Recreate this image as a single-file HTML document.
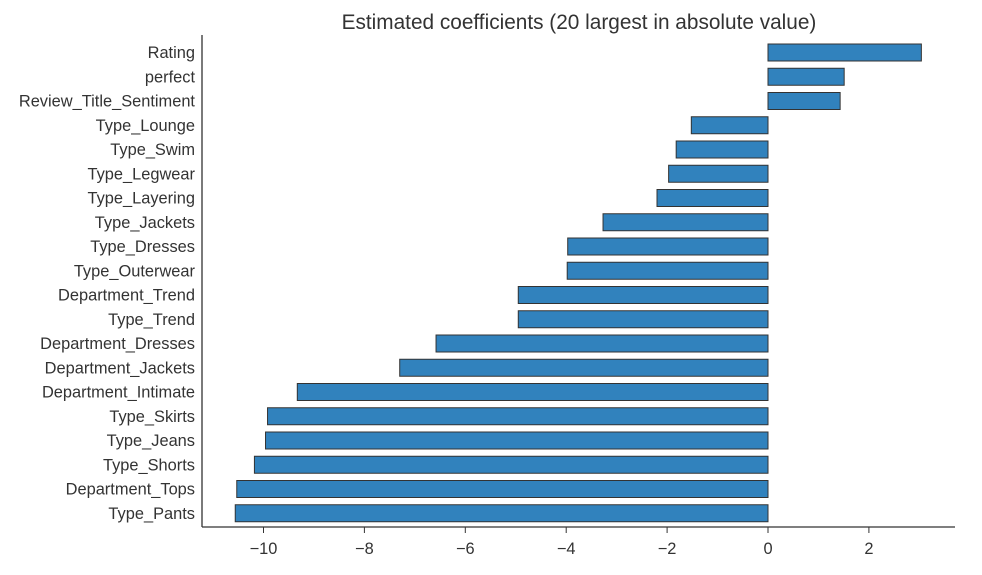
<!DOCTYPE html>
<html><head><meta charset="utf-8"><style>
body{margin:0;background:#fff;}
svg text{font-family:"Liberation Sans",Arial,sans-serif;fill:#333;}
</style></head><body>
<svg id="chart" width="982" height="570">
<text x="579" y="29" font-size="20.8" text-anchor="middle">Estimated coefficients (20 largest in absolute value)</text>
<g id="bars"></g><g id="ylabels"></g><g id="xticks"></g>
<line x1="202" y1="35" x2="202" y2="527" stroke="#333" stroke-width="1.3"/>
<line x1="202" y1="527" x2="955" y2="527" stroke="#333" stroke-width="1.3"/>
</svg>
<script>
const categories=["Rating","perfect","Review_Title_Sentiment","Type_Lounge","Type_Swim","Type_Legwear","Type_Layering","Type_Jackets","Type_Dresses","Type_Outerwear","Department_Trend","Type_Trend","Department_Dresses","Department_Jackets","Department_Intimate","Type_Skirts","Type_Jeans","Type_Shorts","Department_Tops","Type_Pants"];
const values=[3.04,1.51,1.43,-1.52,-1.82,-1.97,-2.2,-3.27,-3.97,-3.98,-4.95,-4.95,-6.58,-7.3,-9.33,-9.92,-9.96,-10.18,-10.53,-10.56];
const xTicks=[-10,-8,-6,-4,-2,0,2];
const NS="http://www.w3.org/2000/svg";
function x(v){return 768+v*50.45;}
function yc(i){return 52.5+i*24.25;}
const bh=17;
const gb=document.getElementById('bars'),gl=document.getElementById('ylabels'),gt=document.getElementById('xticks');
categories.forEach((c,i)=>{
  const v=values[i];const r=document.createElementNS(NS,'rect');
  r.setAttribute('x',Math.min(x(0),x(v)));r.setAttribute('y',yc(i)-bh/2);
  r.setAttribute('width',Math.abs(x(v)-x(0)));r.setAttribute('height',bh);
  r.setAttribute('fill','#3182bd');r.setAttribute('stroke','#333');r.setAttribute('stroke-width','1');
  
  
  gb.appendChild(r);
  const t=document.createElementNS(NS,'text');
  t.setAttribute('x',195);t.setAttribute('y',yc(i)+5.5);t.setAttribute('font-size','16.4');t.setAttribute('text-anchor','end');
  t.textContent=c;
  
  
  gl.appendChild(t);
});
xTicks.forEach(v=>{
  const l=document.createElementNS(NS,'line');
  l.setAttribute('x1',x(v));l.setAttribute('x2',x(v));l.setAttribute('y1',527);l.setAttribute('y2',533);l.setAttribute('stroke','#333');
  
  
  gt.appendChild(l);
  const t=document.createElementNS(NS,'text');
  t.setAttribute('x',x(v));t.setAttribute('y',554);t.setAttribute('font-size','16.4');t.setAttribute('text-anchor','middle');
  t.textContent=v<0?'\u2212'+Math.abs(v):String(v);
  
  
  gt.appendChild(t);
});
</script>
</body></html>
